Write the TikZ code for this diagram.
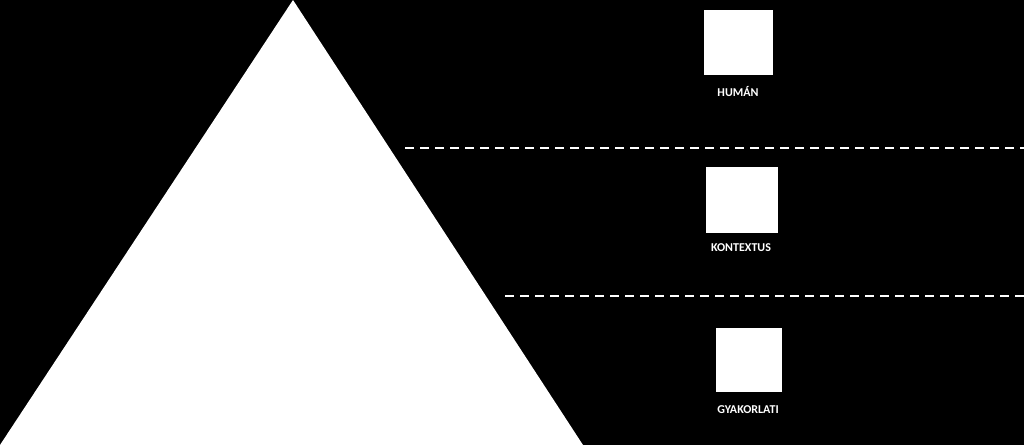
\documentclass[tikz,border=0pt]{standalone}
\usepackage{fontspec}
\setmainfont{Carlito}
\begin{document}
\begin{tikzpicture}[x=1pt,y=-1pt,
  lab/.style={text=white,font=\bfseries\fontsize{12}{14}\selectfont,inner sep=0pt},
  sq/.style={fill=white,draw=none},
  dl/.style={white,line width=2.2pt,dash pattern=on 9pt off 6pt}]
\fill[black] (0,0) rectangle (1024,445);
\useasboundingbox (0,0) rectangle (1024,445);
\node[lab] (t1) at (287,62) {ÉRTÉKET};
\node[lab] (t2) at (286,93) {ÉRDEKKAPCSOLATOK};
\node[lab] (t3) at (287,119) {KÉPVISELŐ SZEMPONT};
\fill[white] (293,0) -- (583,445) -- (0,445) -- cycle;
\draw[dl] (405,148) -- (1024,148);
\draw[dl] (505,296) -- (1024,296);
\fill[sq] (704,10) rectangle (773,75);
\node[lab] (h) at (738,92) {HUMÁN};
\fill[sq] (706,167) rectangle (778,233);
\node[lab] (k) at (741,248) {KONTEXTUS};
\fill[sq] (716,328) rectangle (782,392);
\node[lab] (g) at (748,410) {GYAKORLATI};
\end{tikzpicture}
\end{document}
